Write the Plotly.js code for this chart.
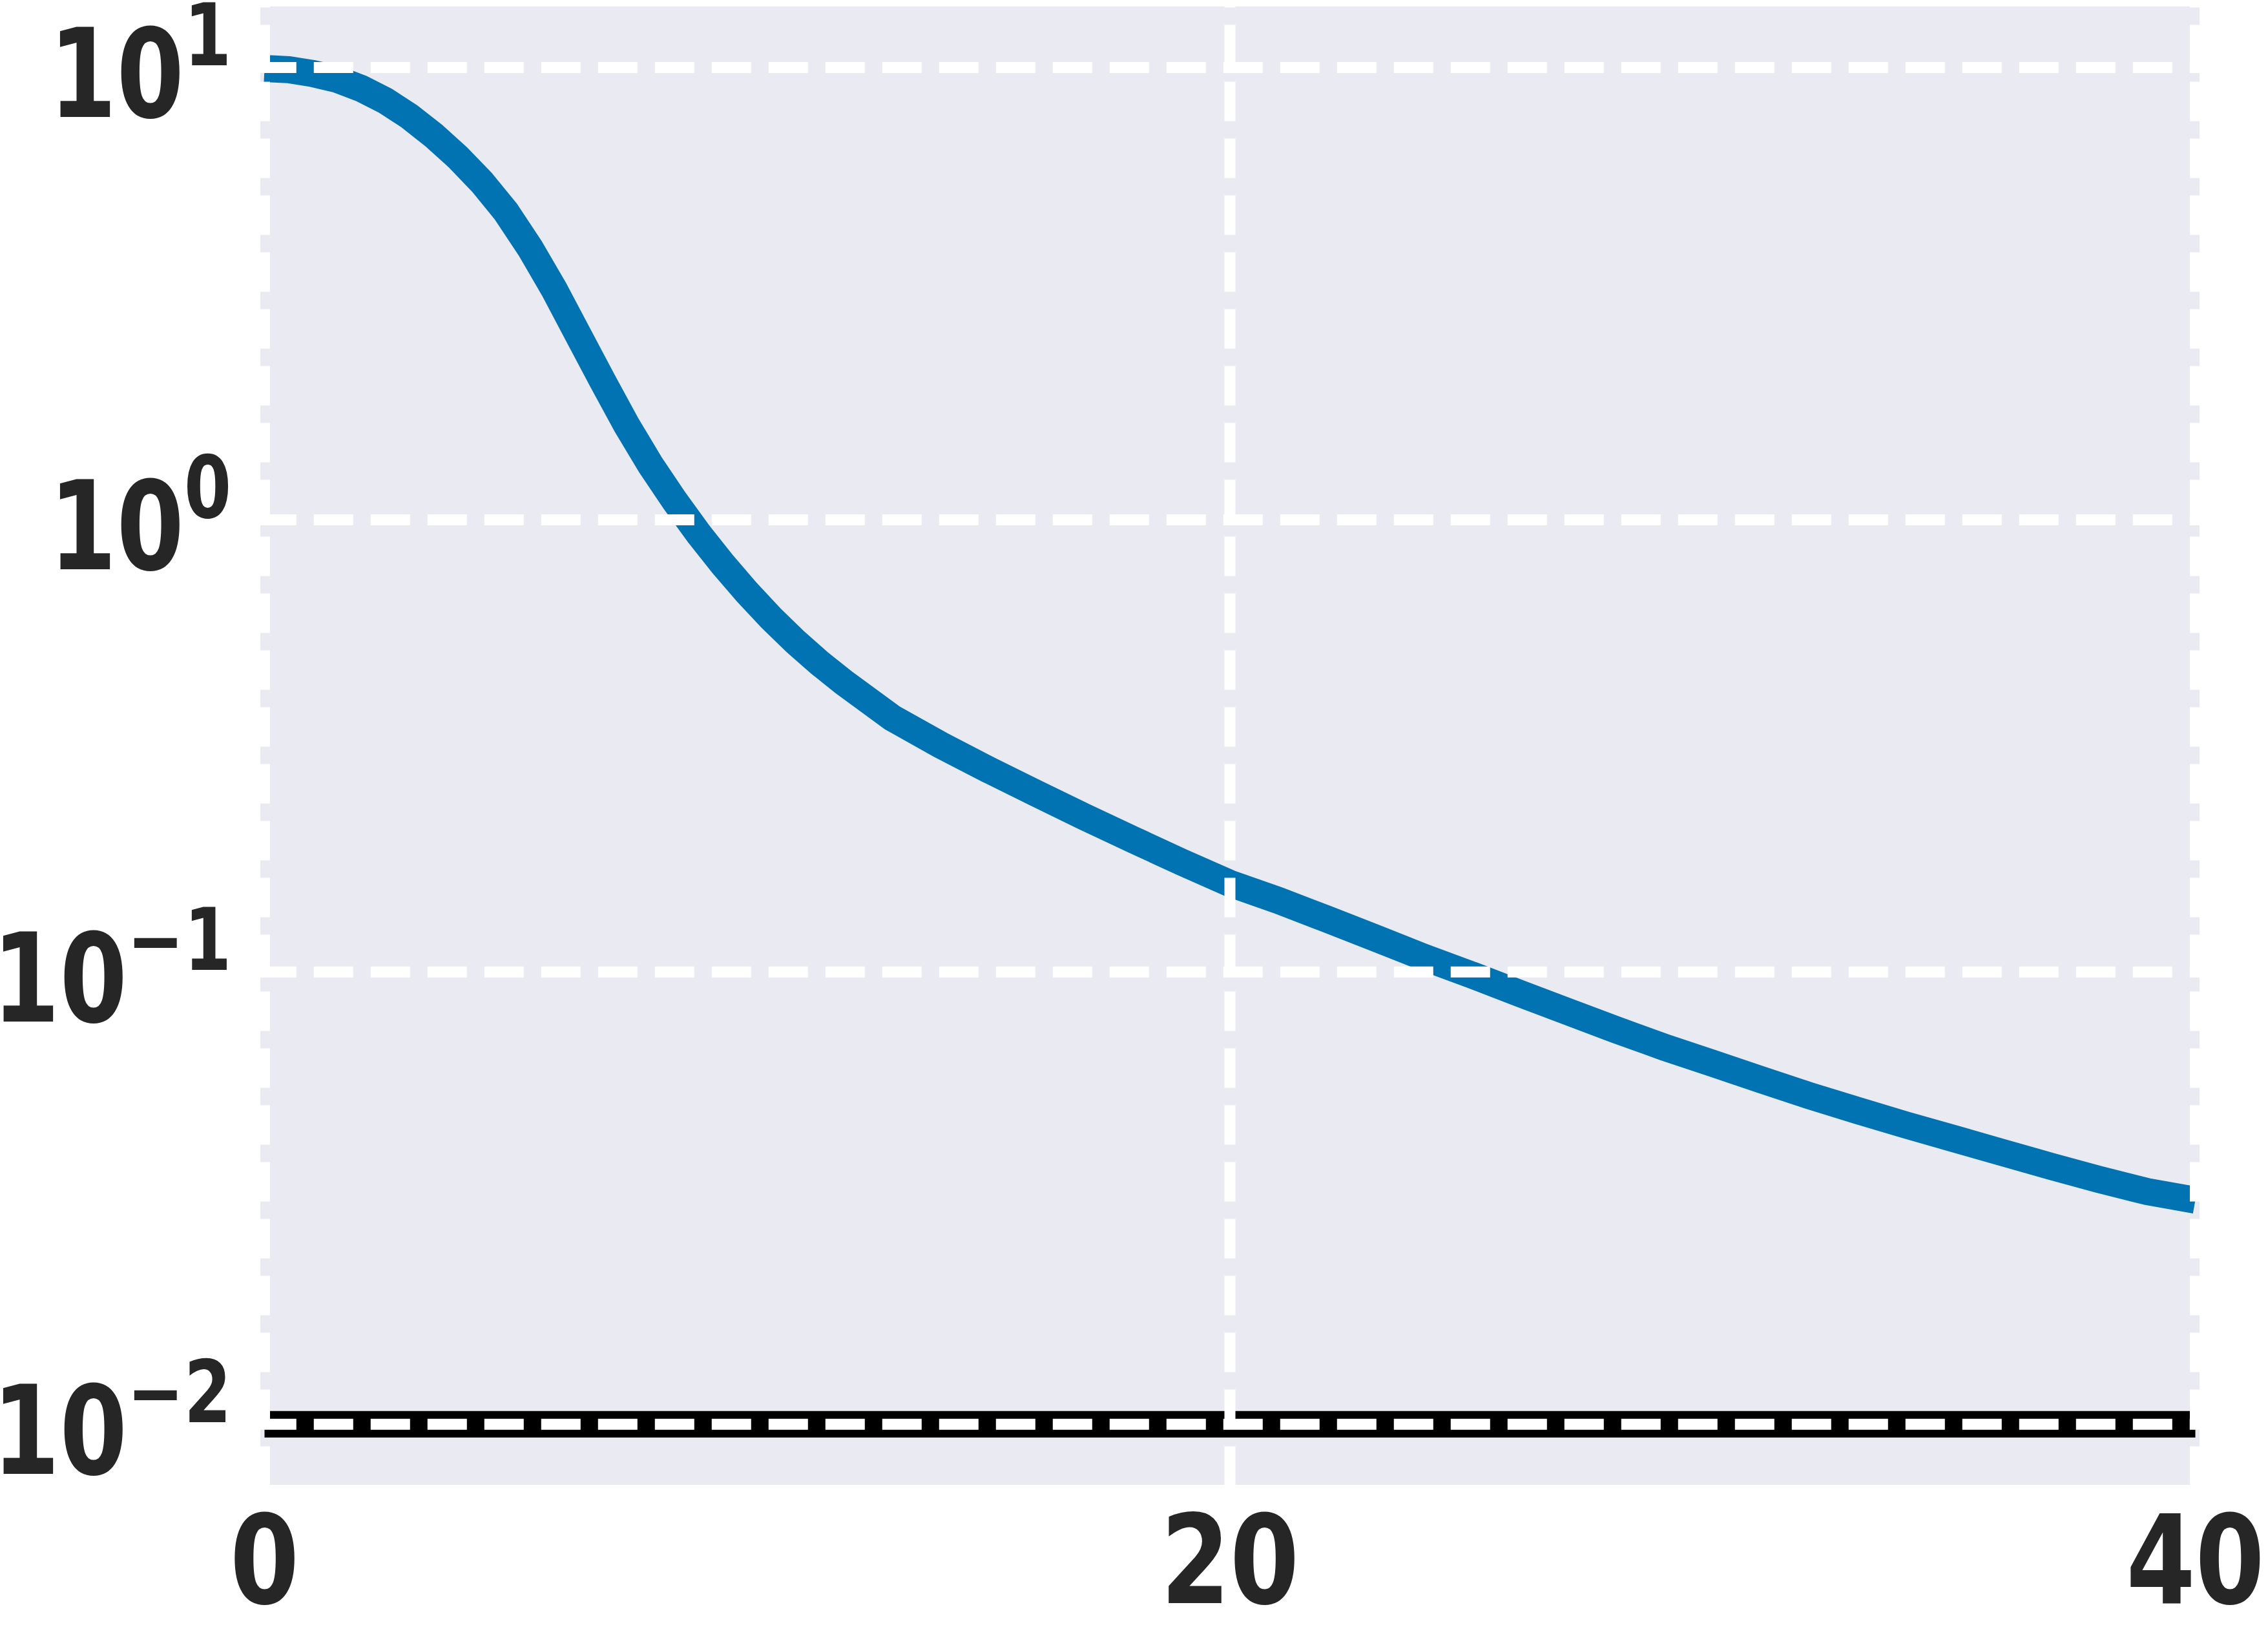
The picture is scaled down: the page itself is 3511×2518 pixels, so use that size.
<!DOCTYPE html>
<html>
<head>
<meta charset="utf-8">
<script src="https://cdn.plot.ly/plotly-3.0.1.min.js"></script>
<style>
  html, body { margin: 0; padding: 0; background: #ffffff; }
  #plot { width: 3511px; height: 2518px; }
</style>
</head>
<body>
<div id="plot"></div>
<script>
// curve (half steps where it bends, whole steps after)
const steps = [0, 0.5, 1, 1.5, 2, 2.5, 3, 3.5, 4, 4.5, 5, 5.5, 6, 6.5, 7, 7.5, 8, 8.5,
               9, 9.5, 10, 10.5, 11, 11.5, 12, 13, 14, 15, 16, 17, 18, 19, 20,
               21, 22, 23, 24, 25, 26, 27, 28, 29, 30, 31, 32, 33, 34, 35, 36, 37, 38, 39, 40];
const lossValues = [9.95, 9.89, 9.70, 9.42, 8.99, 8.45, 7.80, 7.08, 6.34, 5.58, 4.80, 3.99,
                    3.23, 2.56, 2.03, 1.62, 1.32, 1.10, 0.929, 0.796, 0.690, 0.605, 0.537, 0.482,
                    0.437, 0.365, 0.318, 0.280, 0.248, 0.220, 0.196, 0.175, 0.157,
                    0.144, 0.131, 0.119, 0.108, 0.0986, 0.0897, 0.0817, 0.0745, 0.0682, 0.0628,
                    0.0578, 0.0533, 0.0494, 0.0459, 0.0428, 0.0399, 0.0372, 0.0348, 0.0327, 0.0313];

// horizontal reference level
const targetSteps = [0, 40];
const targetValues = [0.01, 0.01];

const xTickVals = [0, 20, 40];
const xTickText = ['0', '20', '40'];
const yTickVals = [0.01, 0.1, 1, 10];
const yTickText = ['10<sup>\u22122</sup>', '10<sup>\u22121</sup>', '10<sup>0</sup>', '10<sup>1</sup>'];

const xRange = [-0.087, 40.087];
const yRange = [-2.134, 1.135]; // log10 units

let traces = [];

traces.push({
    x: steps,
    y: lossValues,
    mode: 'lines',
    type: 'scatter',
    line: { color: '#0173B2', width: 42, simplify: false },
    hoverinfo: 'skip'
});

traces.push({
    x: targetSteps,
    y: targetValues,
    mode: 'lines',
    type: 'scatter',
    line: { color: '#000000', width: 41 },
    hoverinfo: 'skip'
});

// grid is drawn over the curves, like in the original
let gridLine = { color: '#ffffff', width: 17, dash: '61px,27px' };
yTickVals.forEach(v => {
    traces.push({
        x: [xRange[0] - 0.07, xRange[1]],
        y: [v, v],
        mode: 'lines',
        type: 'scatter',
        line: gridLine,
        hoverinfo: 'skip'
    });
});
xTickVals.forEach(v => {
    traces.push({
        x: [v, v],
        y: [Math.pow(10, yRange[1] + 0.085), Math.pow(10, yRange[0])],
        mode: 'lines',
        type: 'scatter',
        line: gridLine,
        hoverinfo: 'skip'
    });
});

let tickFont = { family: 'DejaVu Sans, sans-serif', size: 190, color: '#262626', weight: 'bold' };

let layout = {
    width: 3511,
    height: 2518,
    margin: { l: 403, r: 106, t: 10, b: 220 },
    showlegend: false,
    paper_bgcolor: '#ffffff',
    plot_bgcolor: '#EAEAF2',
    xaxis: {
        range: xRange,
        tickvals: xTickVals,
        ticktext: xTickText,
        showgrid: false,
        zeroline: false,
        showline: false,
        ticks: '',
        ticklabelstandoff: 0,
        ticklabeloverflow: 'allow',
        tickfont: tickFont
    },
    yaxis: {
        type: 'log',
        range: yRange,
        tickvals: yTickVals,
        ticktext: yTickText,
        showgrid: false,
        zeroline: false,
        showline: false,
        ticks: '',
        ticklabelstandoff: 44,
        ticklabeloverflow: 'allow',
        tickfont: tickFont
    }
};

// the original labels use a narrow face: squeeze them sideways around their anchor
function narrowLabels(gd) {
    gd.querySelectorAll('.xtick text, .ytick text').forEach(t => {
        let b = t.getBBox();
        let isY = t.parentNode.classList.contains('ytick');
        let ax = isY ? b.x + b.width : b.x + b.width / 2;
        let dy = isY ? 10 : -8;
        let sx = isY ? 0.79 : 0.81;
        let old = t.getAttribute('transform') || '';
        t.setAttribute('transform', old + ' translate(' + ax + ',' + dy + ') scale(' + sx + ',1) translate(' + (-ax) + ',0)');
    });
}

Plotly.newPlot('plot', traces, layout, { staticPlot: true }).then(narrowLabels);
</script>
</body>
</html>
